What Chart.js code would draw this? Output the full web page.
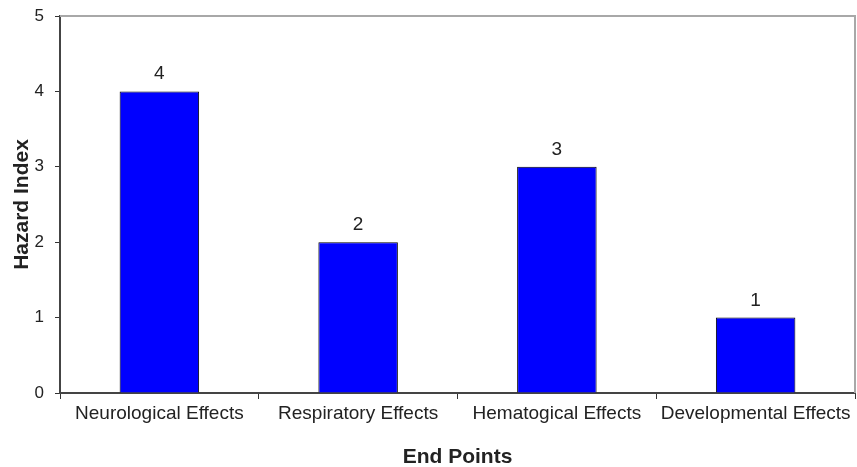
<!DOCTYPE html>
<html><head><meta charset="utf-8">
<script src="https://cdn.jsdelivr.net/npm/chart.js@4.4.0/dist/chart.umd.min.js"></script>
<style>html,body{margin:0;padding:0;background:#fff}#wrap{width:857px;height:467px}</style>
</head><body><div id="wrap"><canvas id="c" width="857" height="467"></canvas></div>
<script>
const categories = ["Neurological Effects", "Respiratory Effects", "Hematogical Effects", "Developmental Effects"];
const hazardIndex = [4, 2, 3, 1];
const yTicks = [0, 1, 2, 3, 4, 5];

const FONT = '"Liberation Sans", Arial, sans-serif';
const frame = {
  id: 'frame',
  afterDraw(chart) {
    const {ctx, chartArea: a} = chart;
    ctx.save();
    ctx.strokeStyle = '#a8a8a8';
    ctx.lineWidth = 2;
    ctx.beginPath();
    ctx.moveTo(a.left, a.top);
    ctx.lineTo(a.right, a.top);
    ctx.lineTo(a.right, a.bottom);
    ctx.stroke();
    ctx.restore();
  }
};
const labels = {
  id: 'labels',
  afterDatasetsDraw(chart) {
    const {ctx} = chart;
    const meta = chart.getDatasetMeta(0);
    ctx.save();
    ctx.fillStyle = '#222';
    ctx.font = '19px ' + FONT;
    ctx.textAlign = 'center';
    ctx.textBaseline = 'alphabetic';
    meta.data.forEach((bar, i) => {
      ctx.fillText(String(hazardIndex[i]), bar.x, bar.y - 12);
    });
    ctx.restore();
  }
};

new Chart(document.getElementById('c'), {
  type: 'bar',
  data: {
    labels: categories,
    datasets: [{
      data: hazardIndex,
      backgroundColor: '#0000ff',
      borderColor: '#000000',
      borderWidth: 1,
      barPercentage: 0.4,
      categoryPercentage: 1.0
    }]
  },
  options: {
    responsive: false,
    animation: false,
    devicePixelRatio: 1,
    layout: {padding: {top: 16, right: 2, left: 0, bottom: 0}},
    plugins: {legend: {display: false}, tooltip: {enabled: false}},
    scales: {
      x: {
        offset: true,
        grid: {offset: true, drawOnChartArea: false, color: '#333', tickLength: 6, lineWidth: 1},
        border: {color: '#444', width: 2},
        ticks: {color: '#222', font: {family: FONT, size: 19}, padding: 3, maxRotation: 0, autoSkip: false},
        title: {display: true, text: 'End Points', color: '#222', font: {family: FONT, size: 21, weight: 'bold'}, padding: {top: 0, bottom: -3}},
        afterFit(s) { s.height = 74; s.paddingLeft = 0; s.paddingRight = 0; }
      },
      y: {
        min: 0, max: 5,
        afterBuildTicks(s) { s.ticks = yTicks.map(v => ({value: v})); },
        grid: {drawOnChartArea: false, color: '#333', tickLength: 5},
        border: {color: '#444', width: 2},
        ticks: {color: '#222', font: {family: FONT, size: 17}, padding: 11},
        title: {display: true, text: 'Hazard Index', color: '#222', font: {family: FONT, size: 21, weight: 'bold'}, padding: {top: 10, bottom: 0}},
        afterFit(s) { s.width = 60; s.paddingTop = 0; s.paddingBottom = 0; }
      }
    }
  },
  plugins: [frame, labels]
});
</script></body></html>
